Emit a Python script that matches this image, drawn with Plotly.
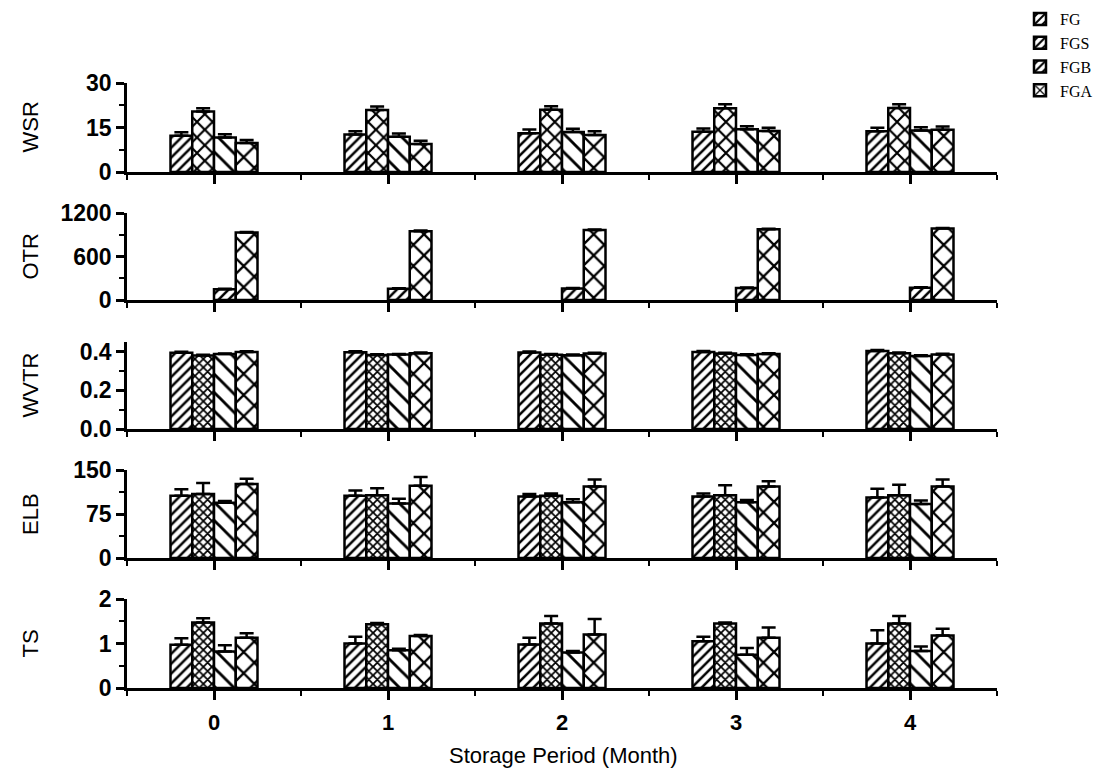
import plotly.graph_objects as go

# Storage period (months) and formulation names
months = [0, 1, 2, 3, 4]
series = ["FG", "FGS", "FGB", "FGA"]

# Water solubility ratio
wsr = {
    "FG": [12.2, 12.6, 13.1, 13.6, 13.7],
    "FGS": [20.4, 20.9, 21.0, 21.5, 21.6],
    "FGB": [11.6, 11.9, 13.5, 14.4, 14.0],
    "FGA": [9.8, 9.4, 12.5, 13.8, 14.2],
}
wsr_err = {
    "FG": [1.2, 1.1, 1.2, 1.1, 1.2],
    "FGS": [1.1, 1.2, 1.2, 1.3, 1.2],
    "FGB": [1.1, 1.1, 1.1, 1.0, 1.1],
    "FGA": [1.0, 1.1, 1.2, 1.1, 1.1],
}

# Oxygen transmission rate (no data for FG / FGS)
otr = {
    "FG": [None] * 5,
    "FGS": [None] * 5,
    "FGB": [148, 155, 160, 165, 170],
    "FGA": [930, 950, 965, 975, 985],
}
otr_err = {
    "FG": [0] * 5,
    "FGS": [0] * 5,
    "FGB": [6, 6, 6, 6, 6],
    "FGA": [8, 8, 8, 8, 8],
}

# Water vapour transmission rate
wvtr = {
    "FG": [0.395, 0.397, 0.396, 0.398, 0.403],
    "FGS": [0.380, 0.383, 0.384, 0.390, 0.392],
    "FGB": [0.388, 0.385, 0.382, 0.383, 0.378],
    "FGA": [0.398, 0.392, 0.390, 0.388, 0.385],
}
wvtr_err = {
    "FG": [0.005] * 5,
    "FGS": [0.004] * 5,
    "FGB": [0.003] * 5,
    "FGA": [0.004] * 5,
}

# Elongation at break
elb = {
    "FG": [106, 106, 105, 105, 103],
    "FGS": [109, 107, 106, 107, 107],
    "FGB": [94, 93, 95, 95, 92],
    "FGA": [126, 123, 122, 122, 122],
}
elb_err = {
    "FG": [11, 9, 4, 5, 15],
    "FGS": [19, 12, 4, 17, 18],
    "FGB": [3, 8, 5, 4, 6],
    "FGA": [9, 15, 12, 9, 12],
}

# Tensile strength
ts = {
    "FG": [0.97, 1.00, 0.98, 1.05, 1.00],
    "FGS": [1.47, 1.43, 1.45, 1.45, 1.45],
    "FGB": [0.82, 0.85, 0.80, 0.75, 0.83],
    "FGA": [1.13, 1.17, 1.20, 1.13, 1.18],
}
ts_err = {
    "FG": [0.15, 0.15, 0.15, 0.10, 0.30],
    "FGS": [0.10, 0.03, 0.17, 0.02, 0.17],
    "FGB": [0.14, 0.03, 0.03, 0.15, 0.10],
    "FGA": [0.10, 0.02, 0.35, 0.23, 0.15],
}

# Hatch styles
HATCH = {
    "diag": dict(shape="/", size=7, solidity=0.36),
    "back": dict(shape="\\", size=13, solidity=0.22),
    "cross": dict(shape="x", size=15, solidity=0.28),
    "cross_mid": dict(shape="x", size=11, solidity=0.36),
    "cross_fine": dict(shape="x", size=6, solidity=0.5),
}

panels = [
    dict(name="WSR", data=wsr, err=wsr_err, rng=[0, 30], dtick=15, fmt="d",
         hatch={"FG": "diag", "FGS": "cross_mid", "FGB": "back", "FGA": "cross"}),
    dict(name="OTR", data=otr, err=otr_err, rng=[0, 1200], dtick=600, fmt="d",
         hatch={"FG": "diag", "FGS": "diag", "FGB": "diag", "FGA": "cross"}),
    dict(name="WVTR", data=wvtr, err=wvtr_err, rng=[0, 0.45], dtick=0.2, fmt=".1f",
         hatch={"FG": "diag", "FGS": "cross_fine", "FGB": "back", "FGA": "cross"}),
    dict(name="ELB", data=elb, err=elb_err, rng=[0, 150], dtick=75, fmt="d",
         hatch={"FG": "diag", "FGS": "cross_fine", "FGB": "back", "FGA": "cross"}),
    dict(name="TS", data=ts, err=ts_err, rng=[0, 2], dtick=1, fmt="d",
         hatch={"FG": "diag", "FGS": "cross_fine", "FGB": "back", "FGA": "cross"}),
]

W, H = 1099, 777
# panel vertical extents in pixels (top, bottom)
panel_px = [(83, 172), (213, 300), (342, 429), (470, 558), (599, 688)]
x_dom = [127 / W, 997 / W]

fig = go.Figure()
AXIS_FONT = "Liberation Sans, Arial, sans-serif"

for i, p in enumerate(panels):
    k = "" if i == 0 else str(i + 1)
    for s in series:
        h = HATCH[p["hatch"][s]]
        fig.add_trace(go.Bar(
            x=months, y=p["data"][s], name=s,
            xaxis="x" + k, yaxis="y" + k,
            showlegend=(p["name"] == "OTR"),
            legendgroup=s,
            marker=dict(
                color="white",
                line=dict(color="black", width=2.5),
                pattern=dict(shape=h["shape"], size=h["size"], solidity=h["solidity"],
                             fgcolor="black", bgcolor="white", fillmode="replace"),
            ),
            error_y=dict(type="data", symmetric=False, array=p["err"][s],
                         arrayminus=[0] * 5, color="black", thickness=2.5, width=7),
        ))

    top, bot = panel_px[i]
    ydom = [1 - bot / H, 1 - top / H]
    last = i == len(panels) - 1
    fig.layout["xaxis" + k] = dict(
        domain=x_dom, anchor="y" + k, range=[-0.5, 4.5],
        tickmode="linear", tick0=0, dtick=1,
        ticks="outside", ticklen=9, tickwidth=2.5, tickcolor="black",
        minor=dict(ticks="outside", ticklen=5, tickwidth=2, tickcolor="black",
                   tick0=0.5, dtick=1),
        showline=True, linewidth=2.5, linecolor="black",
        showgrid=False, zeroline=False, showticklabels=last,
        ticklabelstandoff=4, automargin=False,
        tickfont=dict(family=AXIS_FONT, size=22, color="black", weight="bold"),
        matches=None if i == 0 else "x",
    )
    fig.layout["yaxis" + k] = dict(
        domain=ydom, anchor="x" + k, range=p["rng"],
        tickmode="linear", tick0=0, dtick=p["dtick"],
        tickformat=p["fmt"],
        ticks="outside", ticklen=8, tickwidth=2.5, tickcolor="black",
        minor=dict(ticks="outside", ticklen=5, tickwidth=2, tickcolor="black",
                   tick0=0, dtick=p["dtick"] / 2),
        showline=True, linewidth=2.5, linecolor="black",
        showgrid=False, zeroline=False, automargin=False,
        tickfont=dict(family=AXIS_FONT, size=23, color="black", weight="bold"),
    )
    fig.add_annotation(
        x=30 / W, y=(ydom[0] + ydom[1]) / 2, xref="paper", yref="paper",
        text=p["name"], textangle=-90, showarrow=False,
        font=dict(family=AXIS_FONT, size=22, color="black"),
        xanchor="center", yanchor="middle",
    )

fig.add_annotation(
    x=563 / W, y=1 - 755 / H, xref="paper", yref="paper",
    text="Storage Period (Month)", showarrow=False,
    font=dict(family=AXIS_FONT, size=22, color="black"),
    xanchor="center", yanchor="middle",
)

fig.update_layout(
    width=W, height=H,
    margin=dict(l=0, r=0, t=0, b=0, autoexpand=False),
    paper_bgcolor="white", plot_bgcolor="white",
    barmode="group", bargap=0.5, bargroupgap=0,
    legend=dict(
        x=1020 / W, y=1 - 2 / H, xanchor="left", yanchor="top",
        font=dict(family="Liberation Serif, Times New Roman, serif", size=16, color="black"),
        bgcolor="rgba(0,0,0,0)", tracegroupgap=0, itemwidth=30,
    ),
)

fig.write_html("out.html")
